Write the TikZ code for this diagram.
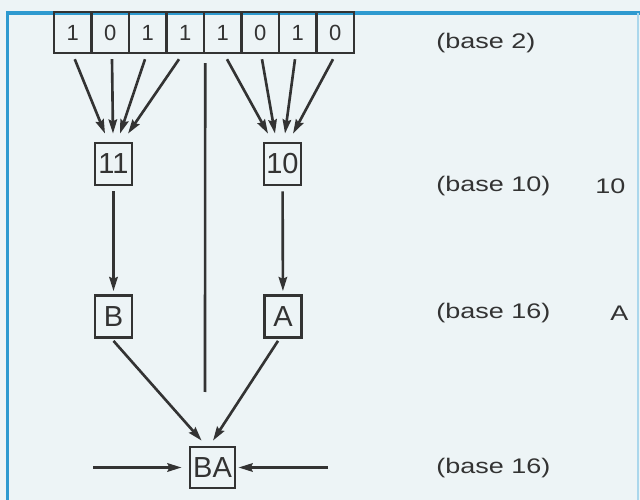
\documentclass[tikz,border=0pt]{standalone}
\usepackage{fontspec}
\setmainfont{Liberation Sans}
\newfontfamily\lblfont[FakeStretch=1.28]{Liberation Sans}
\usetikzlibrary{arrows.meta}
\definecolor{paper}{HTML}{EDF4F6}
\definecolor{rule}{HTML}{2E9AD0}
\definecolor{ink}{HTML}{333333}

\begin{document}
\begin{tikzpicture}[x=0.02cm,y=-0.02cm,
    bit/.style={draw=ink,line width=1.4pt,inner sep=0pt,minimum width=0.75cm,minimum height=0.82cm,text=ink,font=\fontsize{12.5}{14}\selectfont},
    numbox/.style={draw=ink,line width=1.6pt,inner sep=0pt,minimum width=0.74cm,minimum height=0.84cm,text=ink,font=\fontsize{16.5}{18}\selectfont},
    lbl/.style={anchor=west,inner sep=0pt,text=ink,font=\lblfont\fontsize{12}{14}\selectfont},
    arr/.style={-{Stealth[length=8pt,width=4.8pt,inset=1pt]},draw=ink,line width=1.5pt}]
    \useasboundingbox (0,0) rectangle (640,500);
    \fill[paper] (0,0) rectangle (640,500);

    %frame
    \draw[rule,line width=2pt] (7.5,500) -- (7.5,13) -- (640,13);
    \draw[rule!40,line width=0.6pt] (638,13) -- (638,500);

    %bits
    \node[bit] (b1) at (72.75,32.5) {1};
    \node[bit] (b2) at (110.25,32.5) {0};
    \node[bit] (b3) at (147.75,32.5) {1};
    \node[bit] (b4) at (185.25,32.5) {1};
    \node[bit] (b5) at (222.75,32.5) {1};
    \node[bit] (b6) at (260.25,32.5) {0};
    \node[bit] (b7) at (297.75,32.5) {1};
    \node[bit] (b8) at (335.25,32.5) {0};

    %digits
    \node[numbox] (d11) at (113.5,164) {11};
    \node[numbox] (d10) at (282.5,164) {10};
    \node[numbox] (hB) at (113.5,316.5) {B};
    \node[numbox] (hA) at (283,316.5) {A};
    \node[numbox,minimum width=0.9cm,minimum height=0.82cm] (hBA) at (212.5,467.5) {BA};

    %bits to 11
    \draw[arr] ([shift={(2,5)}]b1.south) -- ([shift={(-8.5,-8)}]d11.north);
    \draw[arr] ([shift={(1.75,5)}]b2.south) -- ([shift={(-0.5,-8)}]d11.north);
    \draw[arr] ([shift={(-2.75,5)}]b3.south) -- ([shift={(6.5,-8)}]d11.north);
    \draw[arr] ([shift={(-6.25,5)}]b4.south) -- ([shift={(14.5,-8)}]d11.north);

    %bits to 10
    \draw[arr] ([shift={(4.25,5)}]b5.south) -- ([shift={(-14.5,-8)}]d10.north);
    \draw[arr] ([shift={(1.75,5)}]b6.south) -- ([shift={(-7.5,-8)}]d10.north);
    \draw[arr] ([shift={(-2.75,5)}]b7.south) -- ([shift={(2.5,-8)}]d10.north);
    \draw[arr] ([shift={(-2.25,5)}]b8.south) -- ([shift={(10.5,-8)}]d10.north);

    %split line
    \coordinate (cut) at (205,392);
    \draw[ink,line width=1.5pt] ([yshift=-5]b4.south east) -- (cut);

    %base 10 to base 16
    \draw[arr,shorten <=2.8pt,shorten >=1.7pt] (d11) -- (hB);
    \draw[arr,shorten <=2.8pt,shorten >=1.7pt] (d10) -- (hA);
    \draw[arr] ([shift={(0,2)}]hB.south) -- ([shift={(13,-5)}]hBA.north west);
    \draw[arr] ([shift={(-5,2)}]hA.south) -- ([shift={(0.5,-5)}]hBA.north);

    %side arrows
    \coordinate (inL) at (93,467.5);
    \coordinate (inR) at (328,467.5);
    \draw[arr,shorten >=4pt] (inL) -- (hBA.west);
    \draw[arr,shorten >=1.2pt] (inR) -- (hBA.east);

    %labels
    \node[lbl] (l2) at (436,43) {(base 2)};
    \node[lbl] (l10) at (436,186) {(base 10)};
    \node[lbl] (v10) at (595,186) {10};
    \node[lbl] (l16) at (436,313) {(base 16)};
    \node[lbl] (vA) at (610,313) {A};
    \node[lbl] (l16b) at (436,468) {(base 16)};
  \end{tikzpicture}
\end{document}
